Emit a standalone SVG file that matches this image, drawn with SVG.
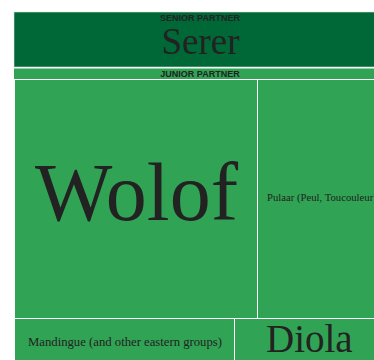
<svg xmlns="http://www.w3.org/2000/svg" width="374" height="360" viewBox="0 0 374 360">
<style>
.cell{stroke:#fff;stroke-width:1}
.dark{fill:#006837}
.light{fill:#31a354}
.hdr{font-family:"Liberation Sans",Arial,sans-serif;font-weight:bold;font-size:9px;fill:#222;text-anchor:middle}
.lbl{font-family:"Liberation Serif","Times New Roman",serif;fill:#222}
</style>
<rect width="374" height="360" fill="#fff"/>
<g id="senior">
<rect class="dark" x="14" y="12" width="370" height="55" stroke="#cfe3d5" stroke-width="0.6"/>
<text class="hdr" x="200" y="20.5">SENIOR PARTNER</text>
<text class="lbl" x="200.5" y="54" font-size="37" text-anchor="middle" fill="#111">Serer</text>
</g>
<g id="junior">
<rect class="light" x="14" y="68.5" width="370" height="300"/>
<line x1="14" y1="79.5" x2="374" y2="79.5" stroke="#fff" stroke-opacity="0.5"/>
<text class="hdr" x="200" y="77">JUNIOR PARTNER</text>
</g>
<g id="wolof">
<rect class="light cell" x="14.5" y="79.5" width="243" height="239"/>
<text class="lbl" x="136.5" y="220" font-size="82" text-anchor="middle">Wolof</text>
</g>
<g id="pulaar">
<rect class="light cell" x="257.5" y="79.5" width="130" height="239"/>
<text class="lbl" x="267" y="201" font-size="10.7">Pulaar (Peul, Toucouleur)</text>
</g>
<g id="mandingue">
<rect class="light cell" x="14.5" y="318.5" width="220" height="50"/>
<text class="lbl" x="28" y="346" font-size="11.5" textLength="194" lengthAdjust="spacingAndGlyphs">Mandingue (and other eastern groups)</text>
</g>
<g id="diola">
<rect class="light cell" x="234.5" y="318.5" width="150" height="50"/>
<text class="lbl" x="266" y="352" font-size="39">Diola</text>
</g>
<g id="connectors"></g>
</svg>
